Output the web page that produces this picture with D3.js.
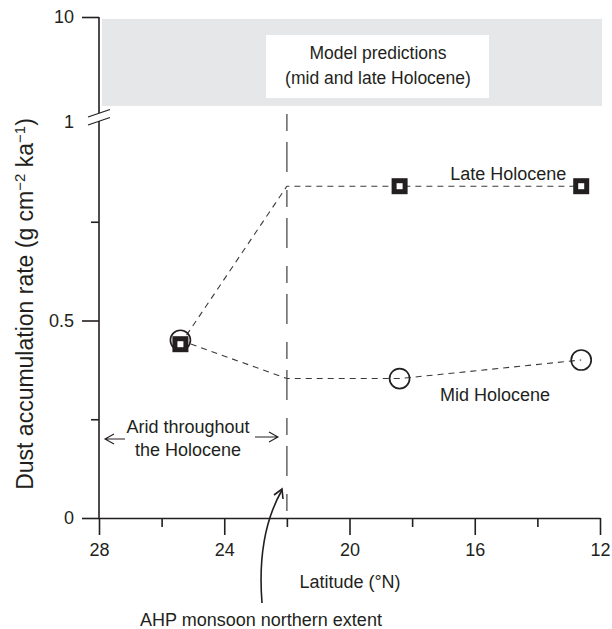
<!DOCTYPE html>
<html>
<head>
<meta charset="utf-8">
<script src="https://cdn.jsdelivr.net/npm/d3@7"></script>
<style>
  html, body { margin: 0; padding: 0; background: #fff; }
  svg { display: block; font-family: "Liberation Sans", Arial, Helvetica, sans-serif; }
  text { fill: #231f20; }
</style>
</head>
<body>
<div id="chart"></div>
<script>
// latitude of the sites (°N) and the dust accumulation rates
const siteLats = [25.4, 18.4, 12.6];
const lateHolocene = [0.44, 0.84, 0.84];
const midHolocene = [0.45, 0.353, 0.40];

// dashed connecting lines bend at the AHP monsoon limit (22°N)
const lineLats = [25.4, 22, 18.4, 12.6];
const lateLine = [0.44, 0.84, 0.84, 0.84];
const midLine = [0.45, 0.353, 0.353, 0.40];

const monsoonLimit = 22;
const modelRange = [1.45, 9.6];   // log-scaled upper panel

const xTicks = [28, 24, 20, 16, 12];
const xMinor = [26, 22, 18, 14];
const yTicks = [0, 0.5, 1];
const yMinor = [0.25, 0.75];
const topTicks = [10];

const W = 612, H = 629;
const ink = "#231f20";
const fs = "18px";

const svg = d3.select("#chart").append("svg")
    .attr("width", W).attr("height", H);

const x = d3.scaleLinear().domain([28, 12]).range([99, 600]);
const y = d3.scaleLinear().domain([0, 1]).range([518, 123]);
const yTop = d3.scaleLog().domain([1, 10]).range([123, 17]);

// grey band: model predictions (upper, log part of the axis)
svg.append("rect")
    .attr("x", 102).attr("width", 500)
    .attr("y", yTop(modelRange[1]))
    .attr("height", yTop(modelRange[0]) - yTop(modelRange[1]))
    .attr("fill", "#e6e7e8");

svg.append("rect")
    .attr("x", 266).attr("y", 35).attr("width", 223).attr("height", 63)
    .attr("fill", "#fff");

const boxText = svg.append("text")
    .attr("text-anchor", "middle").style("font-size", "17.5px");
["Model predictions", "(mid and late Holocene)"].forEach((t, i) => {
    boxText.append("tspan").attr("x", 378).attr("y", 59 + i * 25).text(t);
});

// vertical long-dashed line at the monsoon limit
svg.append("line")
    .attr("x1", x(monsoonLimit)).attr("x2", x(monsoonLimit))
    .attr("y1", 114).attr("y2", y(0))
    .attr("stroke", "#6d6e71").attr("stroke-width", 1.6)
    .attr("stroke-dasharray", "17,11,30,18");

// lower y axis (linear)
const yAxisG = svg.append("g").attr("transform", "translate(99,0)")
    .call(d3.axisLeft(y).tickValues(yTicks).tickSize(17).tickSizeOuter(0).tickPadding(8)
        .tickFormat(d => d === 0 ? "0" : d === 1 ? "1" : d3.format(".1f")(d)));
yAxisG.select(".domain").attr("d", `M0,${y(0)}V${y(1) - 2}`);
yAxisG.selectAll(".tick").filter(d => d === 1).select("line").remove();
yAxisG.selectAll(".tick").filter(d => d === 1).attr("transform", `translate(0,${y(1) - 1})`);

svg.append("g").attr("transform", "translate(99,0)")
    .call(d3.axisLeft(y).tickValues(yMinor).tickSize(8).tickSizeOuter(0).tickFormat(""))
    .select(".domain").remove();

// upper y axis (log, broken)
const topAxisG = svg.append("g").attr("transform", "translate(99,0)")
    .call(d3.axisLeft(yTop).tickValues(topTicks).tickSize(17).tickSizeOuter(0).tickPadding(8)
        .tickFormat(d3.format("d")));
topAxisG.select(".domain").attr("d", `M0,${yTop(10)}V113`);

// axis break marks
[[88, 117, 110, 109.5], [88, 125, 110, 117.5]].forEach(([x1, y1, x2, y2]) => {
    svg.append("line").attr("x1", x1).attr("y1", y1).attr("x2", x2).attr("y2", y2)
        .attr("stroke", ink).attr("stroke-width", 1.2);
});

// x axis
svg.append("g").attr("transform", `translate(0,${y(0)})`)
    .call(d3.axisBottom(x).tickValues(xTicks).tickSize(17).tickSizeOuter(0).tickPadding(8));
svg.append("g").attr("transform", `translate(0,${y(0)})`)
    .call(d3.axisBottom(x).tickValues(xMinor).tickSize(9).tickSizeOuter(0).tickFormat(""))
    .select(".domain").remove();

svg.selectAll(".tick text").style("font-size", fs).attr("fill", ink);
svg.selectAll(".domain, .tick line").attr("stroke", ink).attr("stroke-width", 1.6);

// axis titles
const yTitle = svg.append("text")
    .attr("transform", "translate(33,304) rotate(-90)")
    .attr("text-anchor", "middle").style("font-size", "23px");
yTitle.append("tspan").text("Dust accumulation rate (g cm");
yTitle.append("tspan").attr("dy", -8).style("font-size", "15px").text("\u22122");
yTitle.append("tspan").attr("dy", 8).text(" ka");
yTitle.append("tspan").attr("dy", -8).style("font-size", "15px").text("\u22121");
yTitle.append("tspan").attr("dy", 8).text(")");

svg.append("text").attr("x", 350).attr("y", 588)
    .attr("text-anchor", "middle").style("font-size", fs).text("Latitude (\u00b0N)");

// connecting dashed lines
const line = d3.line().x(d => x(d[0])).y(d => y(d[1]));
[lateLine, midLine].forEach(vals => {
    svg.append("path")
        .datum(lineLats.map((lat, i) => [lat, vals[i]]))
        .attr("d", line)
        .attr("fill", "none").attr("stroke", "#3a3a3a").attr("stroke-width", 1.1)
        .attr("stroke-dasharray", "6,5");
});

// mid Holocene circles
svg.selectAll(".mid").data(siteLats.map((lat, i) => [lat, midHolocene[i]]))
    .join("circle").attr("class", "mid")
    .attr("cx", d => x(d[0])).attr("cy", d => y(d[1])).attr("r", 10)
    .attr("fill", "none").attr("stroke", ink).attr("stroke-width", 1.7);

// late Holocene squares
svg.selectAll(".late").data(siteLats.map((lat, i) => [lat, lateHolocene[i]]))
    .join("rect").attr("class", "late")
    .attr("x", d => x(d[0]) - 5.5).attr("y", d => y(d[1]) - 5.5)
    .attr("width", 11).attr("height", 11)
    .attr("fill", "#fff").attr("stroke", ink).attr("stroke-width", 5);

// series labels
svg.append("text").attr("x", x(14.93)).attr("y", 180)
    .attr("text-anchor", "middle").style("font-size", fs).text("Late Holocene");
svg.append("text").attr("x", x(15.35)).attr("y", 401)
    .attr("text-anchor", "middle").style("font-size", fs).text("Mid Holocene");

// arid annotation
const arid = svg.append("text").attr("text-anchor", "middle").style("font-size", fs);
["Arid throughout", "the Holocene"].forEach((t, i) => {
    arid.append("tspan").attr("x", 188).attr("y", 433 + i * 23).text(t);
});

const arrow = (x1, x2, yy) => {
    const dir = Math.sign(x2 - x1);
    svg.append("path")
        .attr("d", `M${x1},${yy}H${x2}M${x2 - dir * 9},${yy - 5}L${x2},${yy}L${x2 - dir * 9},${yy + 5}`)
        .attr("fill", "none").attr("stroke", ink).attr("stroke-width", 1.1);
};
arrow(125, 105, 439);
arrow(255, 278, 437);

// AHP monsoon northern extent annotation
svg.append("path")
    .attr("d", "M262,603C259,565 262,525 282,490")
    .attr("fill", "none").attr("stroke", ink).attr("stroke-width", 1.6);
svg.append("path")
    .attr("d", "M274,495L282,489L283,499")
    .attr("fill", "none").attr("stroke", ink).attr("stroke-width", 1.6);
svg.append("text").attr("x", 261).attr("y", 626)
    .attr("text-anchor", "middle").style("font-size", fs).text("AHP monsoon northern extent");
</script>
</body>
</html>
